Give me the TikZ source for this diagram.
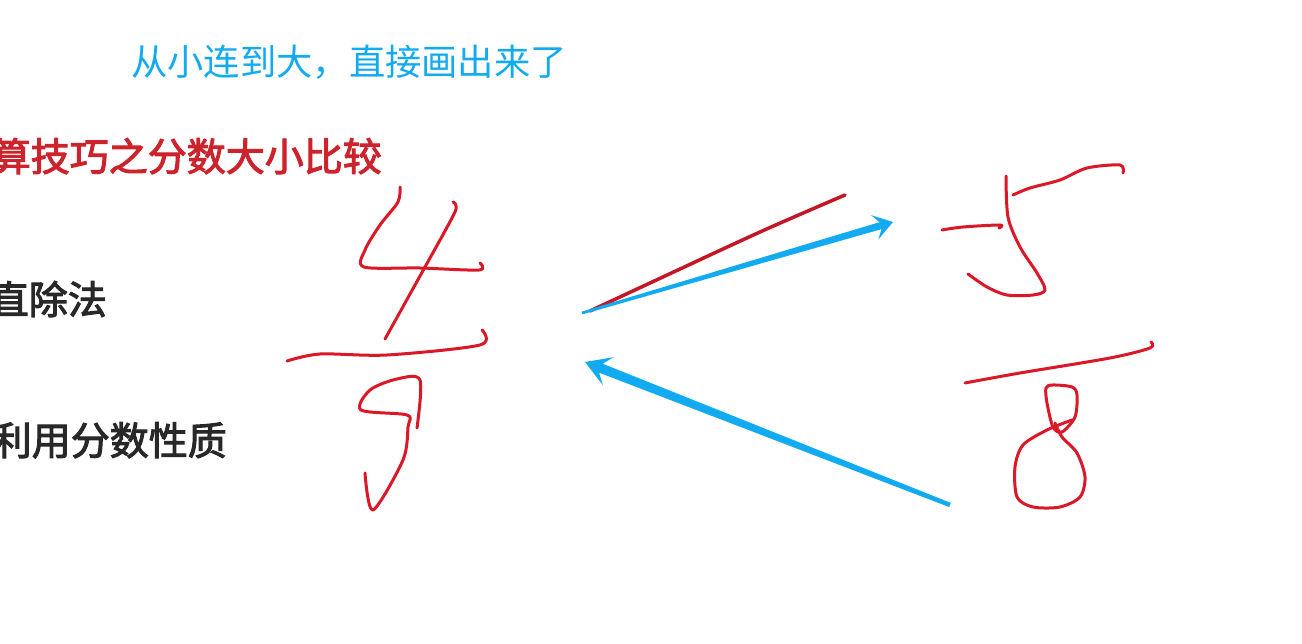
\documentclass[tikz,border=0pt]{standalone}
\usepackage{fontspec}
\newfontfamily\cjk{Noto Sans CJK SC}
\newfontfamily\cjkm{Noto Sans CJK SC}[FakeBold=2.6]
\usetikzlibrary{calc}
\definecolor{skyblue}{RGB}{18,170,240}
\definecolor{penred}{RGB}{218,24,40}
\definecolor{titlered}{RGB}{205,35,45}
\definecolor{darktext}{RGB}{40,40,40}
\tikzset{
  txt/.style={inner sep=0pt,font=\cjk\fontsize{36.3}{40}\selectfont},
  heavytxt/.style={inner sep=0pt,font=\cjkm\fontsize{39}{42}\selectfont},
  pen/.style={draw=penred,line width=3pt,line cap=round,line join=round},
}
\begin{document}
\begin{tikzpicture}[x=1pt,y=-1pt]
\fill[white] (0,0) rectangle (1302,644);
\useasboundingbox (0,0) rectangle (1302,644);
% texts
\node[txt,anchor=base west,text=skyblue] (note) at (131,76) {从小连到大，直接画出来了};
\node[heavytxt,anchor=base east,text=titlered] (title) at (382,171) {算技巧之分数大小比较};
\node[heavytxt,anchor=base east,text=darktext] (m1) at (107,314) {直除法};
\node[heavytxt,anchor=base east,text=darktext] (m2) at (227,455) {利用分数性质};
% handwritten 4/7
\draw[pen] plot[smooth,tension=0.5] coordinates {(400,187) (398,202) (380,225) (365,250) (364,267) (420,268) (479,270) (480,263)};
\draw[pen] plot[smooth,tension=0.4] coordinates {(453,202) (455,212) (420,276) (385,339)};
\draw[pen] plot[smooth,tension=0.5] coordinates {(287,361) (320,354) (387,355) (480,345) (482,330)};
\draw[pen] plot[smooth,tension=0.5] coordinates {(417,428) (420,380) (397,379) (370,390) (361,410) (407,415) (408,427) (403,460) (373,510) (365,473)};
% red less-than stroke
\draw[pen,line width=3.5pt,draw=penred!90!black] plot[smooth,tension=0.5] coordinates {(845,195) (760,232) (650,283) (590,311)};
% handwritten 5/8
\draw[pen] plot[smooth,tension=0.5] coordinates {(1013,195) (1030,188) (1060,180) (1087,168) (1120,165) (1123,173)};
\draw[pen] plot[smooth,tension=0.5] coordinates {(1006,176) (1008,217) (1020,247) (1037,273) (1045,290) (1033,295) (1007,295) (987,287) (968,274)};
\draw[pen] plot[smooth,tension=0.5] coordinates {(942,230) (963,227) (1000,225) (999,228)};
\draw[pen] plot[smooth,tension=0.5] coordinates {(965,383) (1020,373) (1110,358) (1150,348) (1151,342)};
\draw[pen] plot[smooth cycle,tension=0.5] coordinates {(1046,388) (1053,385) (1072,387) (1077,395) (1075,417) (1062,432) (1053,427) (1047,403)};
\draw[pen] plot[smooth,tension=0.5] coordinates {(1072,420) (1047,430) (1023,445) (1015,467) (1017,497) (1033,507) (1060,507) (1080,497) (1085,477) (1077,453) (1062,437) (1055,423)};
% blue arrows (tapered, notched heads)
\coordinate (s1) at (582,313);
\coordinate (t1) at (893,222);
\coordinate (n1) at ($(t1)!13pt!(s1)$);
\coordinate (w1) at ($(t1)!19pt!(s1)$);
\fill[skyblue] ($(s1)!1.4pt!90:(t1)$) -- ($(n1)!3.6pt!-90:(s1)$) -- ($(w1)!12.6pt!-90:(s1)$) -- (t1)
  -- ($(w1)!12.6pt!90:(s1)$) -- ($(n1)!3.6pt!90:(s1)$) -- ($(s1)!1.4pt!-90:(t1)$) -- cycle;
\coordinate (s2) at (950,505);
\coordinate (t2) at (585,362);
\coordinate (n2) at ($(t2)!17pt!(s2)$);
\coordinate (w2) at ($(t2)!25pt!(s2)$);
\fill[skyblue] ($(s2)!2.2pt!90:(t2)$) -- ($(n2)!4.8pt!-90:(s2)$) -- ($(w2)!15pt!-90:(s2)$) -- (t2)
  -- ($(w2)!15pt!90:(s2)$) -- ($(n2)!4.8pt!90:(s2)$) -- ($(s2)!2.2pt!-90:(t2)$) -- cycle;
\end{tikzpicture}
\end{document}
